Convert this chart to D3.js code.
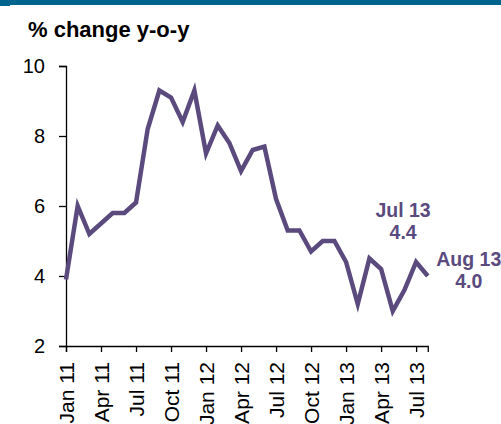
<!DOCTYPE html>
<html>
<head>
<meta charset="utf-8">
<script src="https://cdn.jsdelivr.net/npm/d3@7"></script>
<style>
  body { margin: 0; background: #fff; }
  svg { display: block; font-family: "Liberation Sans", Arial, sans-serif; }
</style>
</head>
<body>
<div id="chart"></div>
<script>
/* ---------------------------------------------- Data ---------------------------------------------- */

const months = [
    "Jan 11", "Feb 11", "Mar 11", "Apr 11", "May 11", "Jun 11", "Jul 11", "Aug 11", "Sep 11", "Oct 11", "Nov 11", "Dec 11",
    "Jan 12", "Feb 12", "Mar 12", "Apr 12", "May 12", "Jun 12", "Jul 12", "Aug 12", "Sep 12", "Oct 12", "Nov 12", "Dec 12",
    "Jan 13", "Feb 13", "Mar 13", "Apr 13", "May 13", "Jun 13", "Jul 13", "Aug 13"
];
const values = [
    3.9, 6.0, 5.2, 5.5, 5.8, 5.8, 6.1, 8.2, 9.3, 9.1, 8.4, 9.3,
    7.5, 8.3, 7.8, 7.0, 7.6, 7.7, 6.2, 5.3, 5.3, 4.7, 5.0, 5.0,
    4.4, 3.2, 4.5, 4.2, 3.0, 3.6, 4.4, 4.0
];
const yTicks = [2, 4, 6, 8, 10];
const xTickLabels = ["Jan 11", "Apr 11", "Jul 11", "Oct 11", "Jan 12", "Apr 12", "Jul 12", "Oct 12", "Jan 13", "Apr 13", "Jul 13"];
const callouts = [
    { month: "Jul 13", value: 4.4 },
    { month: "Aug 13", value: 4.0 }
];

/* ---------------------------------------------- Chart ---------------------------------------------- */

const width = 501, height = 424;
const margin = { top: 66, left: 66, bottom: 78 };
const purple = "#5a4a7e";

const svg = d3.select("#chart").append("svg")
    .attr("width", width)
    .attr("height", height);

// header band
svg.append("rect").attr("x", 0).attr("y", 0).attr("width", width).attr("height", 5).attr("fill", "#00648c");
svg.append("rect").attr("x", 0).attr("y", 0).attr("width", 10).attr("height", 6).attr("fill", "#00648c");

svg.append("text")
    .attr("x", 28)
    .attr("y", 37)
    .style("font-size", "22px")
    .style("font-weight", "bold")
    .text("% change y-o-y");

const xScale = d3.scalePoint()
    .domain(months)
    .range([margin.left, margin.left + 11.67 * (months.length - 1)]);

const yScale = d3.scaleLinear()
    .domain([2, 10])
    .range([height - margin.bottom, margin.top]);

// y axis
const yAxis = svg.append("g")
    .attr("transform", `translate(${margin.left}, 0)`)
    .call(d3.axisLeft(yScale).tickValues(yTicks).tickSize(7).tickPadding(14).tickFormat(d3.format("d")));
yAxis.select(".domain").attr("stroke", "#000").attr("stroke-width", 1.3);
yAxis.selectAll(".tick line").attr("stroke-width", 1.3);
yAxis.selectAll("text").style("font-size", "20px").attr("fill", "#000");

// x axis
const xAxis = svg.append("g")
    .attr("transform", `translate(0, ${yScale(2)})`)
    .call(d3.axisBottom(xScale).tickValues(xTickLabels).tickSizeOuter(0).tickSize(6));
xAxis.select(".domain").attr("stroke", "#000").attr("stroke-width", 1.3);
xAxis.selectAll(".tick line").attr("stroke-width", 1.3);
xAxis.selectAll("text")
    .style("font-size", "21px")
    .attr("fill", "#000")
    .attr("transform", "rotate(-90)")
    .attr("x", -16)
    .attr("y", 0)
    .attr("dy", "0.35em")
    .style("text-anchor", "end");

// line
const line = d3.line()
    .x((d, i) => xScale(months[i]))
    .y(d => yScale(d));

svg.append("path")
    .datum(values)
    .attr("fill", "none")
    .attr("stroke", purple)
    .attr("stroke-width", 4.5)
    .attr("stroke-linejoin", "miter")
    .attr("d", line);

// callouts
const offsets = { "Jul 13": [-13, -45], "Aug 13": [41, -10] };
callouts.forEach(c => {
    const [dx, dy] = offsets[c.month];
    const x = xScale(c.month) + dx;
    const y = yScale(c.value) + dy;
    const t = svg.append("text")
        .attr("x", x)
        .attr("y", y)
        .attr("text-anchor", "middle")
        .attr("fill", purple)
        .style("font-size", "19.5px")
        .style("font-weight", "bold");
    t.append("tspan").attr("x", x).text(c.month);
    t.append("tspan").attr("x", x).attr("dy", 21.5).text(c.value.toFixed(1));
});
</script>
</body>
</html>
